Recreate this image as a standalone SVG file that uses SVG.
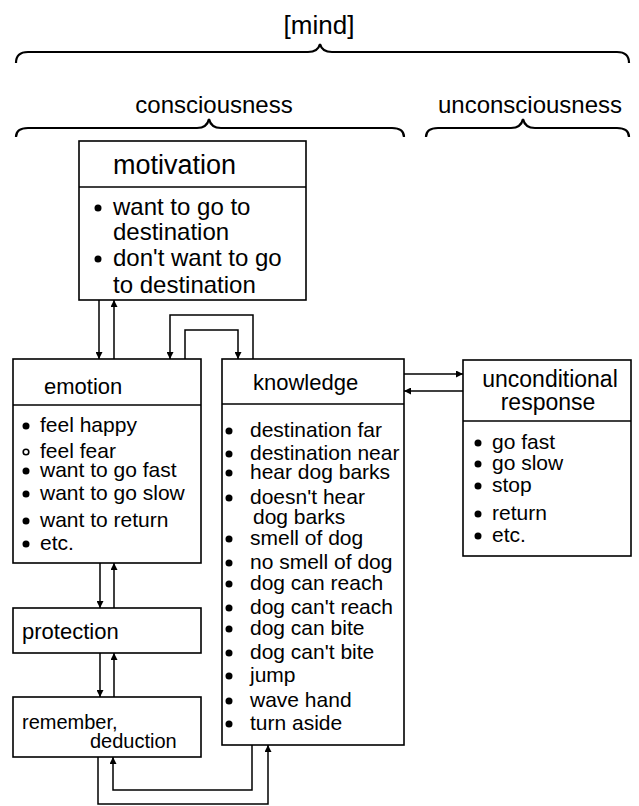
<svg xmlns="http://www.w3.org/2000/svg" width="639" height="806" viewBox="0 0 639 806">
<style>
text{font-family:"Liberation Sans",Arial,sans-serif;fill:#000}
.t{font-size:24px}
.tm{font-size:26px}
.h{font-size:22px}
.hu{font-size:23px}
.b{font-size:21px}
.r{font-size:20px}
.hm{font-size:27px}
.bm{font-size:24px}
.box{fill:#fff;stroke:#000;stroke-width:1.6}
.ln{fill:none;stroke:#000;stroke-width:1.5}
.br{fill:none;stroke:#000;stroke-width:2.2}
</style>
<defs>
<marker id="a" viewBox="0 0 10 10" refX="10" refY="5" markerWidth="7" markerHeight="7" markerUnits="userSpaceOnUse" orient="auto"><path d="M0,0L10,5L0,10z" fill="#000"/></marker>
<circle id="dot" r="3.5" fill="#000"/>
</defs>
<g id="titles">
<text class="tm" x="319" y="34" text-anchor="middle">[mind]</text>
<path class="br" d="M16,63 Q16,52 28,52 L308,52 Q318,52 320,44 Q322,52 332,52 L617,52 Q629,52 629,63"/>
<text class="t" x="214" y="113" text-anchor="middle">consciousness</text>
<text class="t" x="530" y="113" text-anchor="middle">unconsciousness</text>
<path class="br" d="M16,137 Q16,128 28,128 L197,128 Q207,128 209,119 Q211,128 221,128 L392,128 Q404,128 404,137"/>
<path class="br" d="M426,137 Q426,128 438,128 L511,128 Q521,128 523,119 Q525,128 535,128 L617,128 Q629,128 629,137"/>
</g>
<g id="motivation">
<rect class="box" x="79" y="141" width="227" height="159"/>
<line class="ln" x1="79" y1="187" x2="306" y2="187"/>
<text class="hm" x="113" y="174">motivation</text>
<use href="#dot" x="98" y="208"/><text class="bm" x="113" y="215">want to go to</text>
<text class="bm" x="113" y="240">destination</text>
<use href="#dot" x="98" y="259"/><text class="bm" x="113" y="266">don't want to go</text>
<text class="bm" x="113" y="293">to destination</text>
</g>
<g id="emotion">
<rect class="box" x="13" y="359" width="188" height="204"/>
<line class="ln" x1="13" y1="405" x2="201" y2="405"/>
<text class="h" x="44" y="394">emotion</text>
<use href="#dot" x="26" y="426"/><text class="b" x="40" y="432">feel happy</text>
<circle cx="26" cy="452" r="2.8" fill="#fff" stroke="#000" stroke-width="1.6"/><text class="b" x="40" y="458">feel fear</text>
<use href="#dot" x="26" y="471"/><text class="b" x="40" y="477">want to go fast</text>
<use href="#dot" x="26" y="494"/><text class="b" x="40" y="500">want to go slow</text>
<use href="#dot" x="26" y="521"/><text class="b" x="40" y="527">want to return</text>
<use href="#dot" x="26" y="544"/><text class="b" x="40" y="550">etc.</text>
</g>
<g id="knowledge">
<rect class="box" x="222" y="359" width="182" height="386"/>
<line class="ln" x1="222" y1="404" x2="404" y2="404"/>
<text class="h" x="253" y="390">knowledge</text>
<use href="#dot" x="229" y="431"/><text class="b" x="250" y="437">destination far</text>
<use href="#dot" x="229" y="454"/><text class="b" x="250" y="460">destination near</text>
<use href="#dot" x="229" y="473"/><text class="b" x="250" y="479">hear dog barks</text>
<use href="#dot" x="229" y="498"/><text class="b" x="250" y="504">doesn't hear</text>
<text class="b" x="253" y="524">dog barks</text>
<use href="#dot" x="229" y="539"/><text class="b" x="250" y="545">smell of dog</text>
<use href="#dot" x="229" y="563"/><text class="b" x="250" y="569">no smell of dog</text>
<use href="#dot" x="229" y="584"/><text class="b" x="250" y="590">dog can reach</text>
<use href="#dot" x="229" y="608"/><text class="b" x="250" y="614">dog can't reach</text>
<use href="#dot" x="229" y="629"/><text class="b" x="250" y="635">dog can bite</text>
<use href="#dot" x="229" y="653"/><text class="b" x="250" y="659">dog can't bite</text>
<use href="#dot" x="229" y="676"/><text class="b" x="250" y="682">jump</text>
<use href="#dot" x="229" y="701"/><text class="b" x="250" y="707">wave hand</text>
<use href="#dot" x="229" y="724"/><text class="b" x="250" y="730">turn aside</text>
</g>
<g id="unconditional">
<rect class="box" x="463" y="360" width="168" height="196"/>
<line class="ln" x1="463" y1="421" x2="631" y2="421"/>
<text class="hu" x="550" y="387" text-anchor="middle">unconditional</text>
<text class="hu" x="548" y="410" text-anchor="middle">response</text>
<use href="#dot" x="478" y="443"/><text class="b" x="492" y="449">go fast</text>
<use href="#dot" x="478" y="464"/><text class="b" x="492" y="470">go slow</text>
<use href="#dot" x="478" y="486"/><text class="b" x="492" y="492">stop</text>
<use href="#dot" x="478" y="514"/><text class="b" x="492" y="520">return</text>
<use href="#dot" x="478" y="536"/><text class="b" x="492" y="542">etc.</text>
</g>
<g id="protection">
<rect class="box" x="13" y="608" width="188" height="45"/>
<text class="h" x="22" y="639">protection</text>
</g>
<g id="remember">
<rect class="box" x="13" y="697" width="188" height="60"/>
<text class="r" x="22" y="729">remember,</text>
<text class="r" x="90" y="748">deduction</text>
</g>
<g id="connectors">
<line class="ln" x1="99" y1="300" x2="99" y2="359" marker-end="url(#a)"/>
<line class="ln" x1="114" y1="359" x2="114" y2="300" marker-end="url(#a)"/>
<polyline class="ln" points="253,359 253,315 170,315 170,359" marker-end="url(#a)"/>
<polyline class="ln" points="185,359 185,330 238,330 238,359" marker-end="url(#a)"/>
<line class="ln" x1="404" y1="374" x2="463" y2="374" marker-end="url(#a)"/>
<line class="ln" x1="463" y1="391" x2="404" y2="391" marker-end="url(#a)"/>
<line class="ln" x1="100" y1="563" x2="100" y2="608" marker-end="url(#a)"/>
<line class="ln" x1="114" y1="608" x2="114" y2="563" marker-end="url(#a)"/>
<line class="ln" x1="100" y1="653" x2="100" y2="697" marker-end="url(#a)"/>
<line class="ln" x1="114" y1="697" x2="114" y2="653" marker-end="url(#a)"/>
<polyline class="ln" points="252,745 252,790 113,790 113,757" marker-end="url(#a)"/>
<polyline class="ln" points="98,757 98,804 268,804 268,745" marker-end="url(#a)"/>
</g>
</svg>
